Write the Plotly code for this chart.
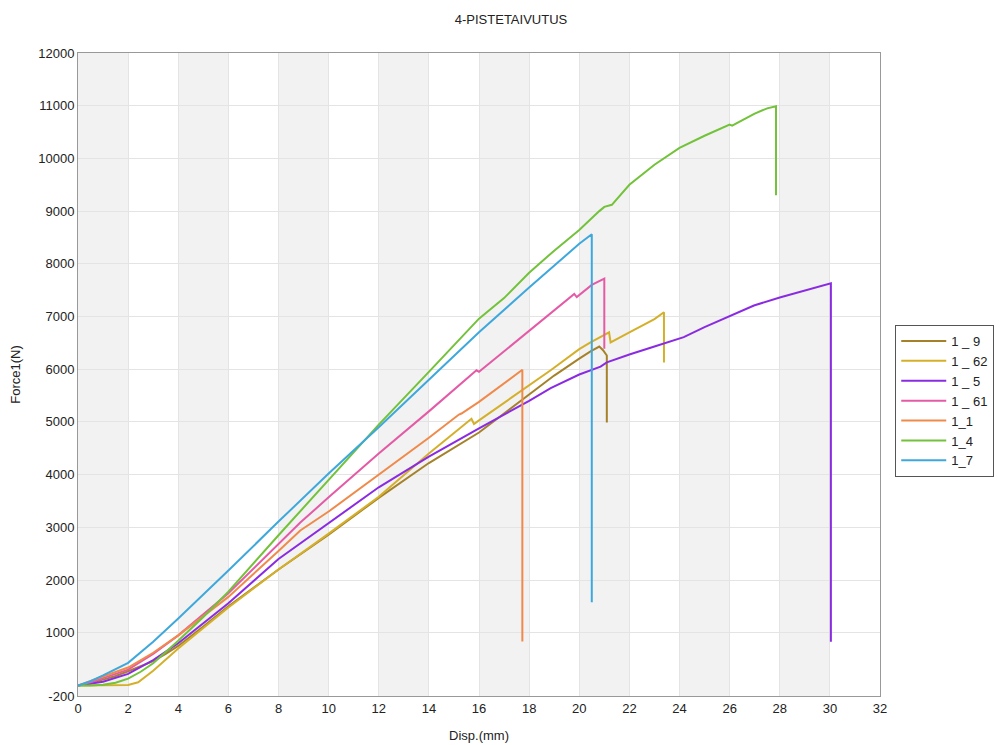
import plotly.graph_objects as go

# ---- data ----
names = ["1 _ 9", "1 _ 62", "1 _ 5", "1 _ 61", "1_1", "1_4", "1_7"]
colors = ["#a5822a", "#d4b02a", "#8a2be2", "#e45aa6", "#f08a4b", "#72c23a", "#3ea8dc"]

x_1_9 = [0, 0.5, 1, 1.5, 2, 2.5, 3, 3.5, 4, 5, 6, 8, 10, 12, 14, 16, 18, 19, 20, 20.45, 20.8, 20.95, 21.1, 21.1]
y_1_9 = [0, 40, 110, 180, 270, 360, 460, 600, 750, 1120, 1500, 2200, 2860, 3560, 4220, 4800, 5520, 5880, 6200, 6340, 6430, 6360, 6260, 4990]

x_1_62 = [0, 1, 2, 2.4, 3, 4, 6, 8, 10, 12, 14, 15.7, 15.8, 16, 18, 18.86, 20, 20.45, 21.19, 21.25, 22, 23, 23.38, 23.38]
y_1_62 = [0, 0, 10, 60, 280, 700, 1480, 2200, 2880, 3580, 4400, 5060, 4960, 5030, 5700, 5980, 6380, 6510, 6700, 6510, 6700, 6950, 7080, 6130]

x_1_5 = [0, 1, 2, 3, 4, 6, 8, 10, 12, 14, 16, 18, 18.86, 20, 20.85, 21.1, 22, 23, 24.17, 25, 26, 26.97, 28, 29, 30.04, 30.04]
y_1_5 = [0, 70, 220, 480, 800, 1560, 2400, 3080, 3760, 4340, 4880, 5400, 5640, 5900, 6050, 6130, 6280, 6430, 6610, 6800, 7010, 7210, 7360, 7490, 7630, 830]

x_1_61 = [0, 0.5, 1, 2, 3, 4, 6, 8, 8.87, 10, 12, 14, 15.9, 16.0, 18, 19.8, 19.9, 20.5, 21.0, 21.0]
y_1_61 = [0, 60, 140, 300, 600, 950, 1750, 2680, 3090, 3570, 4400, 5200, 5980, 5950, 6730, 7430, 7370, 7600, 7720, 6390]

x_1_1 = [0, 0.5, 1, 2, 3, 4, 6, 8, 8.87, 10, 12, 14, 15.2, 15.3, 16, 17, 17.73, 17.73]
y_1_1 = [0, 80, 170, 340, 620, 950, 1680, 2550, 2940, 3300, 4000, 4700, 5140, 5160, 5380, 5740, 5990, 835]

x_1_4 = [0, 0.5, 1, 1.5, 2, 2.5, 3, 4, 5, 6, 8, 10, 12, 14, 16, 17, 18, 19, 20, 20.8, 21, 21.3, 22, 23, 24, 25, 26, 26.1, 27, 27.5, 27.85, 27.85]
y_1_4 = [0, 0, 15, 50, 130, 260, 420, 850, 1300, 1780, 2850, 3900, 4950, 5950, 6960, 7350, 7830, 8250, 8640, 9000, 9080, 9120, 9500, 9880, 10200, 10430, 10640, 10620, 10850, 10950, 10990, 9300]

x_1_7 = [0, 0.5, 1, 2, 3, 4, 6, 8, 10, 12, 14, 16, 18, 20, 20.5, 20.5]
y_1_7 = [0, 80, 190, 430, 830, 1270, 2180, 3110, 4020, 4900, 5800, 6700, 7550, 8380, 8560, 1580]

x_series = [x_1_9, x_1_62, x_1_5, x_1_61, x_1_1, x_1_4, x_1_7]
y_series = [y_1_9, y_1_62, y_1_5, y_1_61, y_1_1, y_1_4, y_1_7]

y_ticks = [-200, 1000, 2000, 3000, 4000, 5000, 6000, 7000, 8000, 9000, 10000, 11000, 12000]
y_tick_text = ["-200", "1000", "2000", "3000", "4000", "5000", "6000", "7000", "8000",
               "9000", "10000", "11000", "12000"]
x_ticks = list(range(0, 33, 2))
band_starts = [0, 4, 8, 12, 16, 20, 24, 28]
band_width = 2

font_family = "Arial, Liberation Sans, sans-serif"

fig = go.Figure()
for n, c, xs, ys in zip(names, colors, x_series, y_series):
    fig.add_trace(go.Scatter(x=xs, y=ys, mode="lines", name=n,
                             line=dict(color=c, width=2)))

for b in band_starts:
    fig.add_shape(type="rect", xref="x", yref="paper", x0=b, x1=b + band_width,
                  y0=0, y1=1, fillcolor="#f2f2f2", line=dict(width=0), layer="below")

fig.update_layout(
    width=1004, height=745,
    margin=dict(l=70, r=132, t=45, b=57),
    paper_bgcolor="white", plot_bgcolor="white",
    font=dict(family=font_family, size=13, color="#222"),
    title=dict(text="4-PISTETAIVUTUS", x=0.501, xref="container", y=0.984,
               yref="container", xanchor="center", yanchor="middle",
               font=dict(size=13, color="#222")),
    legend=dict(x=1.019, y=0.577, xanchor="left", yanchor="top",
                bordercolor="#555", borderwidth=1, bgcolor="white",
                itemwidth=45,
                font=dict(size=13, color="#222"), tracegroupgap=0),
    showlegend=True,
)
fig.update_xaxes(range=[0, 32], tickvals=x_ticks, showgrid=True, gridcolor="#e4e4e4",
                 gridwidth=1, zeroline=False, showline=True, linecolor="#999",
                 linewidth=1, mirror=True, ticks="", tickfont=dict(size=13),
                 automargin=False,
                 title=dict(text="Disp.(mm)", font=dict(size=13), standoff=16))
fig.update_yaxes(range=[-200, 12000], tickvals=y_ticks, ticktext=y_tick_text,
                 showgrid=True, gridcolor="#e4e4e4",
                 gridwidth=1, zeroline=False, showline=True, linecolor="#999",
                 linewidth=1, mirror=True, ticks="", tickfont=dict(size=13),
                 automargin=False,
                 title=dict(text="Force1(N)", font=dict(size=13), standoff=14))

fig.write_html("out.html")
